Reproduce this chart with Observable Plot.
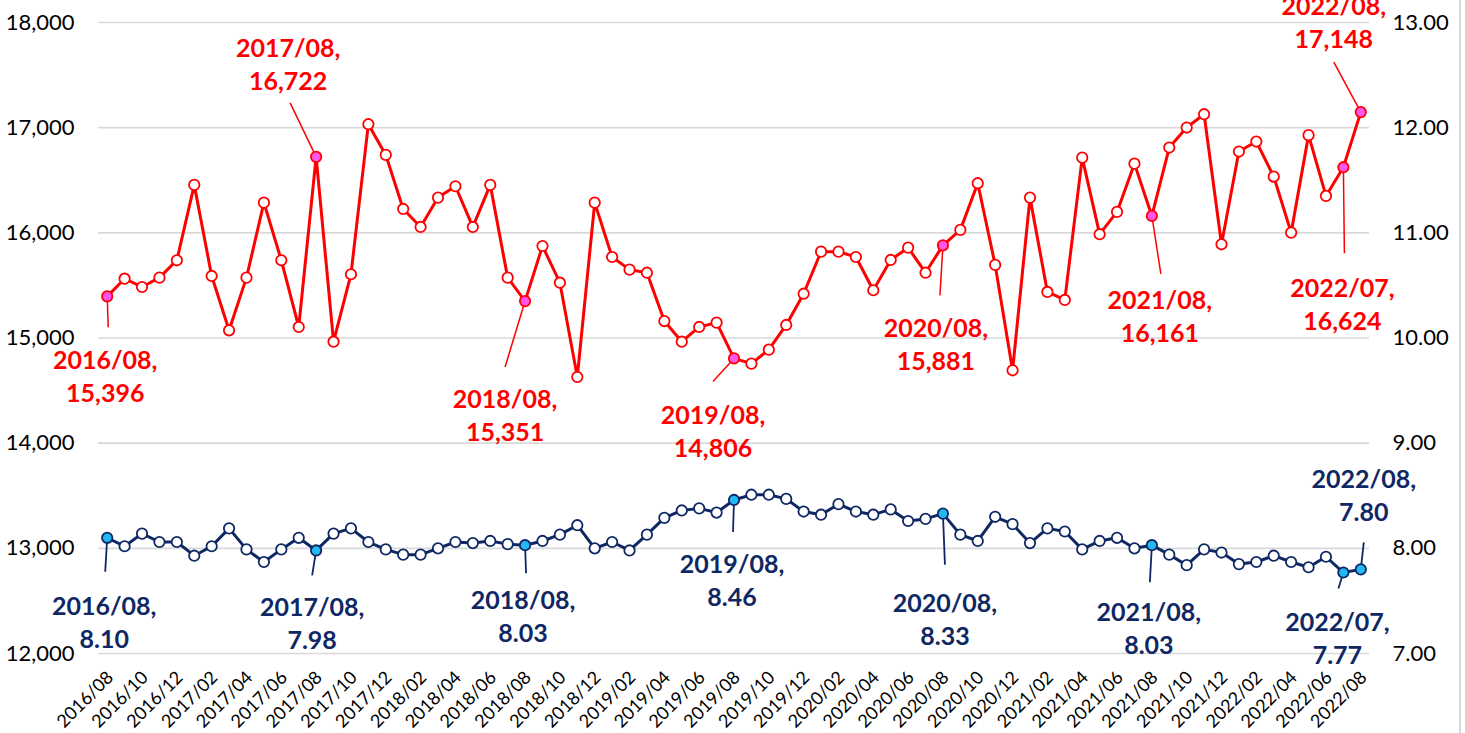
<!DOCTYPE html>
<html><head><meta charset="utf-8">
<script src="https://cdn.jsdelivr.net/npm/d3@7"></script>
<script src="https://cdn.jsdelivr.net/npm/@observablehq/plot@0.6"></script>
<style>
body{margin:0;background:#fff;}
#chart{position:relative;width:1465px;height:733px;overflow:hidden;}
#chart::after{content:"";position:absolute;left:1459px;top:0;width:1.5px;height:733px;background:#d9d9d9;}
</style></head><body><div id="chart"></div>
<script>
const months = [
"2016/08","2016/09","2016/10","2016/11","2016/12",
"2017/01","2017/02","2017/03","2017/04","2017/05","2017/06","2017/07","2017/08","2017/09","2017/10","2017/11","2017/12",
"2018/01","2018/02","2018/03","2018/04","2018/05","2018/06","2018/07","2018/08","2018/09","2018/10","2018/11","2018/12",
"2019/01","2019/02","2019/03","2019/04","2019/05","2019/06","2019/07","2019/08","2019/09","2019/10","2019/11","2019/12",
"2020/01","2020/02","2020/03","2020/04","2020/05","2020/06","2020/07","2020/08","2020/09","2020/10","2020/11","2020/12",
"2021/01","2021/02","2021/03","2021/04","2021/05","2021/06","2021/07","2021/08","2021/09","2021/10","2021/11","2021/12",
"2022/01","2022/02","2022/03","2022/04","2022/05","2022/06","2022/07","2022/08"];

const redSeries = [15396,15564,15485,15574,15739,16456,15590,15073,15574,16287,15739,15105,16722,14965,15606,17033,16741,16227,16056,16335,16443,16056,16456,15574,15351,15875,15526,14629,16287,15770,15650,15621,15161,14965,15105,15146,14806,14756,14889,15124,15421,15821,15821,15770,15454,15742,15859,15621,15881,16028,16472,15695,14693,16335,15438,15362,16715,15987,16199,16658,16161,16811,17001,17128,15891,16773,16868,16535,16002,16929,16351,16624,17148];

const blueSeries = [8.10,8.02,8.14,8.06,8.06,7.93,8.02,8.19,7.99,7.87,7.99,8.10,7.98,8.14,8.19,8.06,7.99,7.94,7.94,8.00,8.06,8.05,8.07,8.04,8.03,8.07,8.13,8.22,8.00,8.06,7.98,8.13,8.29,8.36,8.38,8.34,8.46,8.51,8.51,8.47,8.35,8.32,8.42,8.35,8.32,8.37,8.26,8.28,8.33,8.13,8.07,8.30,8.23,8.05,8.19,8.16,7.99,8.07,8.10,8.00,8.03,7.94,7.84,7.99,7.96,7.85,7.87,7.93,7.87,7.82,7.92,7.77,7.80];

const leftTicks = [12000,13000,14000,15000,16000,17000,18000];
const rightTicks = [7,8,9,10,11,12,13];
const highlightMonths = ["2016/08","2017/08","2018/08","2019/08","2020/08","2021/08","2022/07","2022/08"];

// layout: label offsets in pixels [dx, dy] for text block centre and leader end
const redTextOffset = [[-2,79],[-28,-94],[-20,113],[-21,72],[-7,98],[8,99],[-1,136],[-27,-91]];
const redLeaderOffset = [[1,31],[-26,-54],[-20,66],[-21,23],[-3,50],[9,58],[1,86],[-27,-50]];
const blueTextOffset = [[-3,83],[-4,72],[-2,70],[-2,79],[2,104],[-3,82],[-6,64],[3,-75]];
const blueLeaderOffset = [[-2,34],[-4,25],[1,28],[-1,32],[2,51],[-2,37],[-5,16],[3,-27]];

const W = 1465, H = 733, mL = 98, mR = 96, mT = 22, mB = 80;
const xDomain = [-0.5, months.length - 0.5];
const pxX = (W - mL - mR) / (xDomain[1] - xDomain[0]);
const pxY = (H - mT - mB) / (leftTicks[leftTicks.length-1] - leftTicks[0]);
const toLeft = v => (v + 5) * 1000;

const RED = "#ff0000", NAVY = "#0f2864";
const rows = months.map((m, i) => ({i, m, red: redSeries[i], blue: toLeft(blueSeries[i]), blueRaw: blueSeries[i], hi: highlightMonths.includes(m)}));

function annots(key, textOff, leadOff, fmt) {
  return highlightMonths.map((m, k) => {
    const r = rows.find(d => d.m === m);
    const v = r[key];
    return {
      x: r.i, y: v,
      tx: r.i + textOff[k][0] / pxX, ty: v - textOff[k][1] / pxY,
      lx: r.i + leadOff[k][0] / pxX, ly: v - leadOff[k][1] / pxY,
      label: m + ",\n" + fmt(r)
    };
  });
}
const redAnn = annots("red", redTextOffset, redLeaderOffset, r => d3.format(",")(r.red));
const blueAnn = annots("blue", blueTextOffset, blueLeaderOffset, r => r.blueRaw.toFixed(2));
const tickIdx = rows.filter(d => d.i % 2 === 0).map(d => d.i);

const chart = Plot.plot({
  width: W, height: H,
  marginLeft: mL, marginRight: mR, marginTop: mT, marginBottom: mB,
  style: {fontFamily: "Lato, 'Open Sans', sans-serif", fontSize: "20px", color: "#000", background: "#fff", overflow: "visible"},
  x: {type: "linear", domain: xDomain, axis: null},
  y: {domain: [leftTicks[0], leftTicks[leftTicks.length-1]], axis: null},
  marks: [
    Plot.ruleY(leftTicks, {stroke: "#d9d9d9", strokeWidth: 1.6}),
    Plot.text(leftTicks, {y: d => d, frameAnchor: "left", dx: -24, textAnchor: "end", text: d => d3.format(",")(d), fill: "#000", fontSize: 22}),
    Plot.text(rightTicks, {y: d => toLeft(d), frameAnchor: "right", dx: 23, textAnchor: "start", text: d => d.toFixed(2), fill: "#000", fontSize: 22}),
    Plot.text(tickIdx, {x: d => d, frameAnchor: "bottom", text: d => months[d], rotate: -45, textAnchor: "end", lineAnchor: "middle", dx: 3, dy: 21, fontSize: 18, fill: "#000"}),
    Plot.link(redAnn, {x1: "x", y1: "y", x2: "lx", y2: "ly", stroke: RED, strokeWidth: 1.5}),
    Plot.link(blueAnn, {x1: "x", y1: "y", x2: "lx", y2: "ly", stroke: NAVY, strokeWidth: 1.8}),
    Plot.line(rows, {x: "i", y: "red", stroke: RED, strokeWidth: 3}),
    Plot.line(rows, {x: "i", y: "blue", stroke: NAVY, strokeWidth: 3}),
    Plot.dot(rows, {x: "i", y: "red", r: 5.2, fill: d => d.hi ? "#ff55ee" : "#fff", stroke: RED, strokeWidth: 1.8}),
    Plot.dot(rows, {x: "i", y: "blue", r: 5.2, fill: d => d.hi ? "#22b8f0" : "#fff", stroke: NAVY, strokeWidth: 1.8}),
    Plot.text(redAnn, {x: "tx", y: "ty", text: "label", fill: RED, fontWeight: "bold", fontSize: 25, lineHeight: 1.32, lineAnchor: "middle"}),
    Plot.text(blueAnn, {x: "tx", y: "ty", text: "label", fill: NAVY, fontWeight: "bold", fontSize: 25, lineHeight: 1.32, lineAnchor: "middle"})
  ]
});
document.getElementById("chart").appendChild(chart);
</script>
</body></html>
